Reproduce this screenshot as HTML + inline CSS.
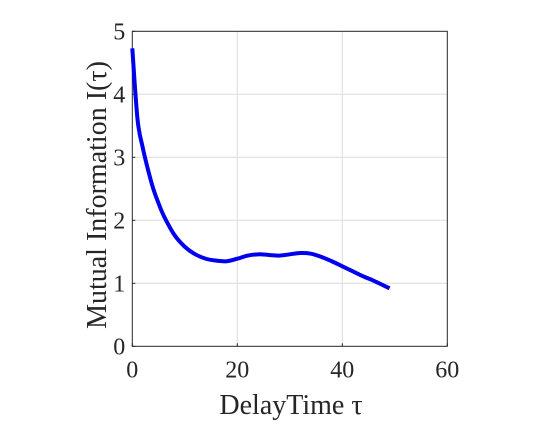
<!DOCTYPE html>
<html><head><meta charset="utf-8"><style>
body{margin:0;background:#fff;}
svg text{font-family:"Liberation Serif",serif;fill:#262626;}
</style></head><body>
<svg id="chart" width="560" height="420">
<rect x="0" y="0" width="560" height="420" fill="#fff"/>
<g id="grid"></g><g id="axes"></g><g id="series"></g>
<text x="291" y="414" text-anchor="middle" font-size="28">DelayTime τ</text>
<text transform="translate(106,195) rotate(-90)" text-anchor="middle" font-size="28">Mutual Information I(τ)</text>
</svg>
<script>
const xTicks=[0,20,40,60];
const yTicks=[0,1,2,3,4,5];
const xData=[0,1,2,3,4,5,6,8,10,12,14,16,18,20,22,24,26,28,30,32,34,36,38,40,42,44,46,48,49];
const yData=[4.73,3.6,3.15,2.8,2.5,2.27,2.07,1.77,1.58,1.46,1.39,1.36,1.35,1.39,1.44,1.46,1.45,1.44,1.46,1.48,1.47,1.42,1.35,1.27,1.19,1.11,1.04,0.96,0.92];
const L=132.3,R=447.3,T=31.3,B=346.3;
const sx=v=>L+(v-0)/(60-0)*(R-L);
const sy=v=>B-(v-0)/(5-0)*(B-T);
const NS="http://www.w3.org/2000/svg";
function mk(tag,attrs,parent){const e=document.createElementNS(NS,tag);for(const k in attrs)e.setAttribute(k,attrs[k]);parent.appendChild(e);return e;}
const grid=document.getElementById('grid'),axes=document.getElementById('axes'),series=document.getElementById('series');
xTicks.forEach(t=>{
 if(t>0&&t<60){const g=mk('line',{x1:sx(t),x2:sx(t),y1:T,y2:B,stroke:'#dcdcdc','stroke-width':1},grid);
 
 }
 const tk=mk('line',{x1:sx(t),x2:sx(t),y1:B,y2:B-3,stroke:'#262626'},axes);
 
 
 const tx=mk('text',{x:sx(t),y:B+31,'text-anchor':'middle','font-size':24},axes);tx.textContent=t;
 
 
});
yTicks.forEach(t=>{
 if(t>0&&t<5){const g=mk('line',{x1:L,x2:R,y1:sy(t),y2:sy(t),stroke:'#dcdcdc','stroke-width':1},grid);
 
 }
 const tk=mk('line',{x1:L,x2:L+3,y1:sy(t),y2:sy(t),stroke:'#262626'},axes);
 
 
 const tx=mk('text',{x:L-7,y:sy(t)+8,'text-anchor':'end','font-size':24},axes);tx.textContent=t;
 
 
});
const box=mk('rect',{x:L,y:T,width:R-L,height:B-T,fill:'none',stroke:'#262626','stroke-width':1},axes);


const pts=xData.map((x,i)=>[sx(x),sy(yData[i])]);
let d='M'+pts[0][0].toFixed(2)+' '+pts[0][1].toFixed(2);
for(let i=0;i<pts.length-1;i++){
 const p0=pts[Math.max(0,i-1)],p1=pts[i],p2=pts[i+1],p3=pts[Math.min(pts.length-1,i+2)];
 const c1=[p1[0]+(p2[0]-p0[0])/6,p1[1]+(p2[1]-p0[1])/6];
 const c2=[p2[0]-(p3[0]-p1[0])/6,p2[1]-(p3[1]-p1[1])/6];
 d+=' C'+c1[0].toFixed(2)+' '+c1[1].toFixed(2)+' '+c2[0].toFixed(2)+' '+c2[1].toFixed(2)+' '+p2[0].toFixed(2)+' '+p2[1].toFixed(2);
}
const p=mk('path',{d:d,fill:'none',stroke:'#0000ee','stroke-width':4,'stroke-linejoin':'round'},series);


</script>
</body></html>
